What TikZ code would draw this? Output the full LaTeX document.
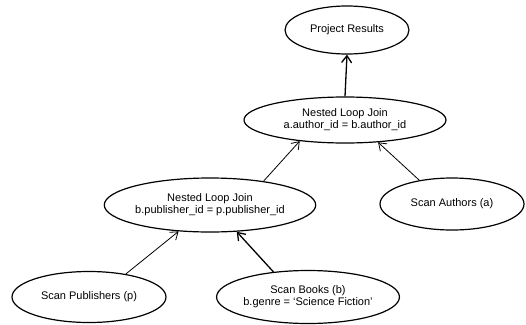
\documentclass[tikz,border=0pt]{standalone}
\usepackage{fontspec}
\setmainfont{Liberation Sans}
\usepackage{tikz}
\usetikzlibrary{shapes.geometric,arrows.meta}

\begin{document}
\begin{tikzpicture}[x=1pt,y=-1pt,
  opnode/.style={ellipse,draw=black,line width=1.2pt,inner sep=0pt,align=center,font=\fontsize{11}{12}\selectfont},
  flow/.style={line width=0.8pt,-{Straight Barb[length=7pt,width=10pt]}},
  flowthick/.style={flow,line width=1.3pt}]
\useasboundingbox (0,0) rectangle (526,324);
\node[opnode,minimum width=124pt,minimum height=48pt] (results) at (347,30) {Project Results};
\node[opnode,minimum width=202pt,minimum height=46pt] (topjoin) at (345,120) {Nested Loop Join\\a.author\_id = b.author\_id};
\node[opnode,minimum width=172pt,minimum height=54pt] (lowjoin) at (210,205) {Nested Loop Join\\b.publisher\_id = p.publisher\_id};
\node[opnode,minimum width=144pt,minimum height=52pt] (authors) at (452,204) {Scan Authors (a)};
\node[opnode,minimum width=154pt,minimum height=51pt] (publishers) at (89,297) {Scan Publishers (p)};
\node[opnode,minimum width=153pt,minimum height=53pt] (books) at (308,297) {Scan Books (b)\\b.genre = `Science Fiction'};
\draw[flowthick] (topjoin.north) -- (results.south);
\draw[flow] (lowjoin.24) -- (topjoin.-155);
\draw[flow] (authors.144) -- (topjoin.-34);
\draw[flow] (publishers.32) -- (lowjoin.-140);
\draw[flowthick] (books.144) -- (lowjoin.-45);
\end{tikzpicture}
\end{document}
